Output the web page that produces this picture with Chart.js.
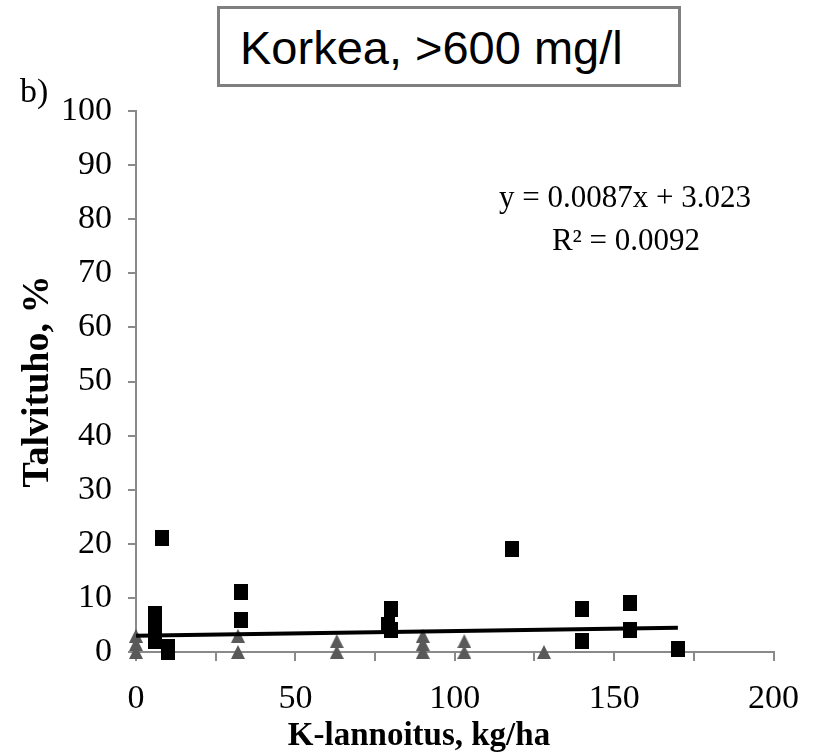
<!DOCTYPE html>
<html>
<head>
<meta charset="utf-8">
<script src="https://cdn.jsdelivr.net/npm/chart.js@4.4.1/dist/chart.umd.min.js"></script>
<style>
  html, body { margin: 0; padding: 0; background: #fff; }
  #wrap { position: relative; width: 817px; height: 753px; overflow: hidden; }
  #chart { position: absolute; left: 0; top: 0; }
  #title {
    position: absolute; left: 217px; top: 6px; width: 464px; height: 81px;
    box-sizing: border-box; border: 3px solid #7f7f7f; background: #fff;
    font-family: 'Liberation Sans', Arial, sans-serif; font-size: 47px;
    line-height: 77px; padding-left: 20px; color: #000; white-space: nowrap;
  }
</style>
</head>
<body>
<div id="wrap">
  <canvas id="chart" width="817" height="753"></canvas>
  <div id="title">Korkea, &gt;600 mg/l</div>
</div>
<script>
// K fertilisation (kg/ha) vs. winter damage (%) — square series
const squareK      = [8, 6, 6, 6, 6, 10, 10, 33, 33, 79, 80, 80, 118, 140, 140, 155, 155, 170];
const squareDamage = [21, 7, 5, 4, 2, 1, 0, 11, 6, 5, 8, 4, 19, 8, 2, 9, 4, 0.5];

// triangle series
const triangleK      = [0, 0, 0, 32, 32, 63, 63, 90, 90, 90, 103, 103, 128];
const triangleDamage = [0, 1.5, 3, 0, 3, 0, 2, 0, 1.5, 3, 0, 2, 0];

// linear trend of the square series
const trendSlope = 0.0087;
const trendIntercept = 3.023;
const trendRSquared = 0.0092;
const trendRange = [0, 170];

// axis ticks
const xTickLabels = [0, 50, 100, 150, 200];
const yTickLabels = [0, 10, 20, 30, 40, 50, 60, 70, 80, 90, 100];

const AXIS_GREY = '#8a8a8a';
const SERIF = '"Liberation Serif", "Times New Roman", serif';

function squareMarker() {
  const c = document.createElement('canvas');
  c.width = 14; c.height = 16;
  const g = c.getContext('2d');
  g.fillStyle = '#000';
  g.fillRect(0, 0, 14, 16);
  return c;
}
function triangleMarker() {
  const c = document.createElement('canvas');
  c.width = 14; c.height = 14;
  const g = c.getContext('2d');
  g.fillStyle = '#595959';
  g.beginPath();
  g.moveTo(7, 0); g.lineTo(14, 14); g.lineTo(0, 14); g.closePath();
  g.fill();
  return c;
}

const toPoints = (xs, ys) => xs.map((x, i) => ({ x: x, y: ys[i] }));
const trendPoints = trendRange.map(x => ({ x: x, y: trendSlope * x + trendIntercept }));

const annotations = {
  id: 'annotations',
  afterDraw(chart) {
    const ctx = chart.ctx;
    ctx.save();
    ctx.fillStyle = '#000';
    ctx.textBaseline = 'alphabetic';
    ctx.font = '34px ' + SERIF;
    ctx.textAlign = 'left';
    ctx.fillText('b)', 20, 102);
    ctx.font = '31px ' + SERIF;
    ctx.textAlign = 'center';
    ctx.fillText('y = ' + trendSlope + 'x + ' + trendIntercept, 625, 207);
    ctx.fillText('R\u00B2 = ' + trendRSquared, 626, 250);
    ctx.font = 'bold 33px ' + SERIF;
    ctx.fillText('K-lannoitus, kg/ha', 419, 745);
    ctx.restore();
  }
};

new Chart(document.getElementById('chart'), {
  type: 'scatter',
  data: {
    datasets: [
      {
        type: 'line',
        data: trendPoints,
        borderColor: '#000',
        borderWidth: 4,
        pointRadius: 0,
        fill: false,
        clip: false,
        order: 0
      },
      {
        data: toPoints(squareK, squareDamage),
        pointStyle: squareMarker(),
        clip: false,
        order: 1
      },
      {
        data: toPoints(triangleK, triangleDamage),
        pointStyle: triangleMarker(),
        clip: false,
        order: 2
      }
    ]
  },
  options: {
    responsive: false,
    animation: false,
    devicePixelRatio: 1,
    events: [],
    layout: { padding: { top: 111, right: 41, left: 0, bottom: 0 } },
    plugins: { legend: { display: false }, tooltip: { enabled: false } },
    scales: {
      x: {
        type: 'linear',
        min: xTickLabels[0],
        max: xTickLabels[xTickLabels.length - 1],
        afterFit(scale) { scale.height = 101; },
        afterBuildTicks(scale) {
          const ticks = [];
          for (let v = scale.min; v <= scale.max; v += 25) ticks.push({ value: v });
          scale.ticks = ticks;
        },
        ticks: {
          autoSkip: false,
          maxRotation: 0,
          padding: 18,
          color: '#000',
          font: { family: SERIF, size: 34 },
          callback: v => (xTickLabels.includes(v) ? String(v) : '')
        },
        grid: { drawOnChartArea: false, drawTicks: true, tickLength: 9, color: AXIS_GREY, lineWidth: 2 },
        border: { display: true, color: AXIS_GREY, width: 2 }
      },
      y: {
        type: 'linear',
        min: yTickLabels[0],
        max: yTickLabels[yTickLabels.length - 1],
        afterFit(scale) { scale.width = 136; },
        afterBuildTicks(scale) { scale.ticks = yTickLabels.map(v => ({ value: v })); },
        ticks: {
          autoSkip: false,
          padding: 16,
          color: '#000',
          font: { family: SERIF, size: 34 }
        },
        grid: { drawOnChartArea: false, drawTicks: true, tickLength: 8, color: AXIS_GREY, lineWidth: 2 },
        border: { display: true, color: AXIS_GREY, width: 2 },
        title: {
          display: true,
          text: 'Talvituho, %',
          color: '#000',
          font: { family: SERIF, size: 38, weight: 'bold' },
          padding: { top: 15, bottom: 0 }
        }
      }
    }
  },
  plugins: [annotations]
});
</script>
</body>
</html>
